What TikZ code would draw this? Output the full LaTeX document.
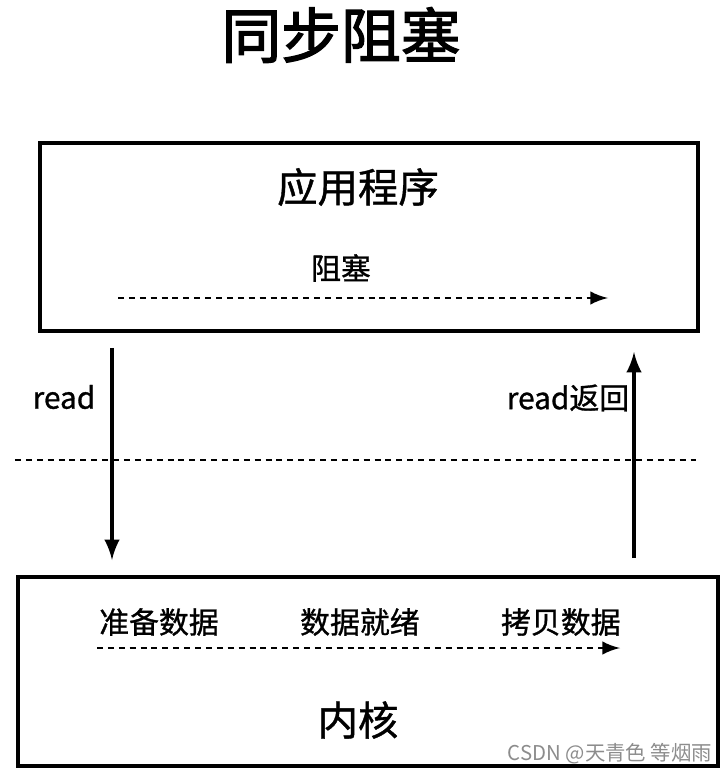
\documentclass[tikz,border=0pt]{standalone}
\usepackage{fontspec}
\newfontfamily\cjk{Noto Sans CJK SC}[FakeBold=1.0]
\newfontfamily\cjkhead{Noto Sans CJK SC}[FakeBold=2.2]
\usetikzlibrary{positioning}
\usetikzlibrary{shapes,arrows}

\begin{document}
\begin{tikzpicture}[layerbox/.style={rectangle,
                                     draw=black,
                                     line width=1.1pt,
                                     inner sep=0,
                                    },
                    steplabel/.style={font=\cjk\fontsize{8.5}{10}\selectfont,
                                      inner sep=0
                                     },
                    boxtitle/.style={font=\cjk\fontsize{11.5}{13}\selectfont,
                                     inner sep=0
                                    },
                    callconnection/.style={
                                     line width=1pt,
                                     ->,
                                     >=latex
                                    },
                    flowconnection/.style={
                                     line width=0.75pt,
                                     ->,
                                     >=latex,
                                     dash pattern=on 1.7pt off 1.4pt
                                    }
                   ]
  \useasboundingbox (0,0) rectangle (7.27,-7.74);
  \node[font=\cjkhead\fontsize{17}{20}\selectfont] (title) at (3.41,-0.35) {同步阻塞};

  % application
  \node[layerbox, minimum width=6.58cm, minimum height=1.88cm] (app) at (3.69,-2.37) { };
  \node[boxtitle] (appname) at (3.58,-1.87) {应用程序};
  \node[steplabel] (block) at (3.41,-2.68) {阻塞};
  \coordinate (blockstart) at (1.18,-2.98);
  \coordinate (blockend) at (6.08,-2.98);
  \draw [flowconnection] (blockstart) -- (blockend);

  % kernel
  \node[layerbox, minimum width=7.0cm, minimum height=1.89cm] (kernel) at (3.68,-6.715) { };
  \node[boxtitle] (kernelname) at (3.58,-7.20) {内核};
  \node[steplabel] (prepare) at (1.59,-6.22) {准备数据};
  \node[steplabel, right=0.8cm of prepare] (ready) {数据就绪};
  \node[steplabel, right=0.8cm of ready] (copy) {拷贝数据};
  \coordinate (copystart) at (0.97,-6.48);
  \coordinate (copyend) at (6.20,-6.48);
  \draw [flowconnection] (copystart) -- (copyend);

  % system call
  \coordinate (callstart) at (1.12,-3.48);
  \coordinate (callend) at (1.12,-5.60);
  \coordinate (retstart) at (6.34,-5.58);
  \coordinate (retend) at (6.34,-3.52);
  \draw [callconnection] (callstart) -- (callend);
  \draw [callconnection] (retstart) -- (retend);
  \node[steplabel] (read) at (0.64,-3.97) {read};
  \node[steplabel] (readret) at (5.68,-3.98) {read返回};

  % user / kernel border
  \coordinate (borderleft) at (0.15,-4.60);
  \coordinate (borderright) at (7.00,-4.60);
  \draw [line width=0.75pt, dash pattern=on 1.7pt off 1.4pt] (borderleft) -- (borderright);

  \node[font=\fontspec{Noto Sans CJK SC}\fontsize{5.8}{7}\selectfont, text=black!45, inner sep=0] (mark) at (6.10,-7.54) {CSDN @天青色 等烟雨};
\end{tikzpicture}
\end{document}
